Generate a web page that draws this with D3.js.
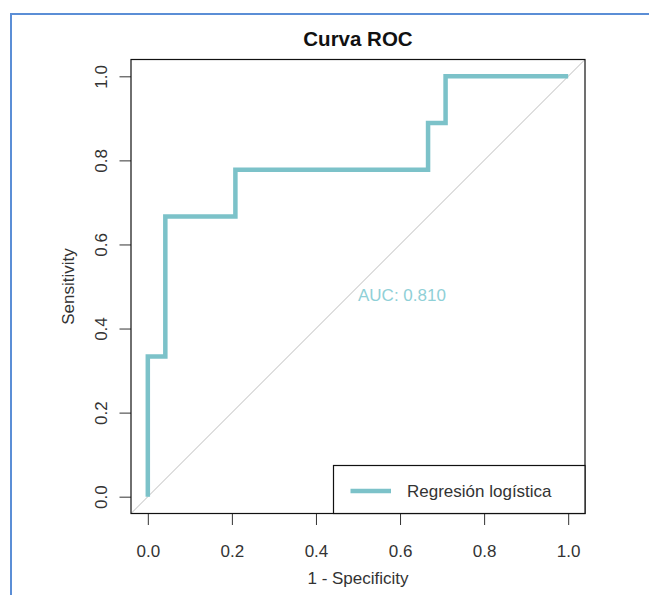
<!DOCTYPE html>
<html>
<head>
<meta charset="utf-8">
<script src="https://cdn.jsdelivr.net/npm/d3@7"></script>
<style>
  html, body { margin: 0; padding: 0; background: #fff; }
  svg { display: block; font-family: "Liberation Sans", Arial, sans-serif; }
</style>
</head>
<body>
<svg id="chart" width="649" height="595"></svg>
<script>
// ---- data ----
const fpr = [0, 0, 1/24, 1/24, 5/24, 5/24, 16/24, 16/24, 17/24, 17/24, 1];
const tpr = [0, 1/3, 1/3, 2/3, 2/3, 7/9, 7/9, 8/9, 8/9, 1, 1];
const xTicks = [0, 0.2, 0.4, 0.6, 0.8, 1.0];
const yTicks = [0, 0.2, 0.4, 0.6, 0.8, 1.0];
const titleText = "Curva ROC";
const xLabel = "1 - Specificity";
const yLabel = "Sensitivity";
const seriesName = "Regresión logística";
const aucText = "AUC: 0.810";

const curveColor = "#7cc2c9";
const aucColor = "#8fd0d7";

const svg = d3.select("#chart");

// blue frame
svg.append("line").attr("x1", 11).attr("y1", 14).attr("x2", 649).attr("y2", 14)
  .attr("stroke", "#5b8ed6").attr("stroke-width", 2);
svg.append("line").attr("x1", 11).attr("y1", 13).attr("x2", 11).attr("y2", 595)
  .attr("stroke", "#5b8ed6").attr("stroke-width", 2);

// plot box
const box = { left: 131, right: 585, top: 59.5, bottom: 513.5 };
const x = d3.scaleLinear().domain([-0.04, 1.04]).range([box.left, box.right]);
const y = d3.scaleLinear().domain([-0.04, 1.04]).range([box.bottom, box.top]);

const defs = svg.append("defs");
defs.append("clipPath").attr("id", "clip").append("rect")
  .attr("x", box.left).attr("y", box.top)
  .attr("width", box.right - box.left).attr("height", box.bottom - box.top);

// diagonal
svg.append("line")
  .attr("clip-path", "url(#clip)")
  .attr("x1", x(-0.04)).attr("y1", y(-0.04))
  .attr("x2", x(1.04)).attr("y2", y(1.04))
  .attr("stroke", "#bdbdbd").attr("stroke-width", 1);

// ROC curve
const pts = fpr.map((d, i) => [d, tpr[i]]);
svg.append("path")
  .datum(pts)
  .attr("fill", "none")
  .attr("stroke", curveColor)
  .attr("stroke-width", 4.5)
  .attr("stroke-linejoin", "miter")
  .attr("stroke-linecap", "butt")
  .attr("d", d3.line().x(d => x(d[0])).y(d => y(d[1])));

// AUC text
svg.append("text")
  .attr("x", x(0.5)).attr("y", y(0.48))
  .attr("dy", "0.35em")
  .attr("fill", aucColor)
  .attr("font-size", 17)
  .text(aucText);

// x axis
const xAxis = svg.append("g")
  .attr("transform", `translate(0,${box.bottom})`)
  .call(d3.axisBottom(x).tickValues(xTicks).tickFormat(d3.format(".1f")).tickSize(11.5).tickPadding(8));
xAxis.select(".domain").remove();
xAxis.selectAll("line").attr("stroke", "#333");
xAxis.selectAll("text").attr("font-size", 17).attr("fill", "#333")
  .attr("font-family", "Liberation Sans, Arial, sans-serif")
  .attr("y", null).attr("dy", null)
  .attr("transform", null)
  .attr("y", 38).attr("dominant-baseline", "central");

// y axis
const yAxis = svg.append("g")
  .attr("transform", `translate(${box.left},0)`)
  .call(d3.axisLeft(y).tickValues(yTicks).tickFormat(d3.format(".1f")).tickSize(11.5));
yAxis.select(".domain").remove();
yAxis.selectAll("line").attr("stroke", "#333");
yAxis.selectAll("text")
  .attr("font-size", 17).attr("fill", "#333")
  .attr("font-family", "Liberation Sans, Arial, sans-serif")
  .attr("x", null).attr("dy", null)
  .attr("text-anchor", "middle")
  .attr("dominant-baseline", "central")
  .attr("transform", "translate(-29.5,0) rotate(-90)");

// box
svg.append("rect")
  .attr("x", box.left).attr("y", box.top)
  .attr("width", box.right - box.left).attr("height", box.bottom - box.top)
  .attr("fill", "none").attr("stroke", "#111").attr("stroke-width", 1.2);

// title
svg.append("text")
  .attr("x", (box.left + box.right) / 2).attr("y", 38.5)
  .attr("text-anchor", "middle").attr("dominant-baseline", "central")
  .attr("font-size", 20.5).attr("font-weight", "bold").attr("fill", "#111")
  .text(titleText);

// axis labels
svg.append("text")
  .attr("x", (box.left + box.right) / 2).attr("y", 578)
  .attr("text-anchor", "middle").attr("dominant-baseline", "central")
  .attr("font-size", 17).attr("fill", "#333")
  .text(xLabel);
svg.append("text")
  .attr("transform", `translate(68.5,${(box.top + box.bottom) / 2}) rotate(-90)`)
  .attr("text-anchor", "middle").attr("dominant-baseline", "central")
  .attr("font-size", 17).attr("fill", "#333")
  .text(yLabel);

// legend
const leg = svg.append("g");
leg.append("rect")
  .attr("x", 333.5).attr("y", 465.5)
  .attr("width", box.right - 333.5).attr("height", box.bottom - 465.5)
  .attr("fill", "#fff").attr("stroke", "#111").attr("stroke-width", 1.2);
leg.append("line")
  .attr("x1", 350.5).attr("x2", 391).attr("y1", 491).attr("y2", 491)
  .attr("stroke", curveColor).attr("stroke-width", 4.5);
leg.append("text")
  .attr("x", 407).attr("y", 491)
  .attr("dominant-baseline", "central")
  .attr("font-size", 17).attr("fill", "#333")
  .text(seriesName);
</script>
</body>
</html>
